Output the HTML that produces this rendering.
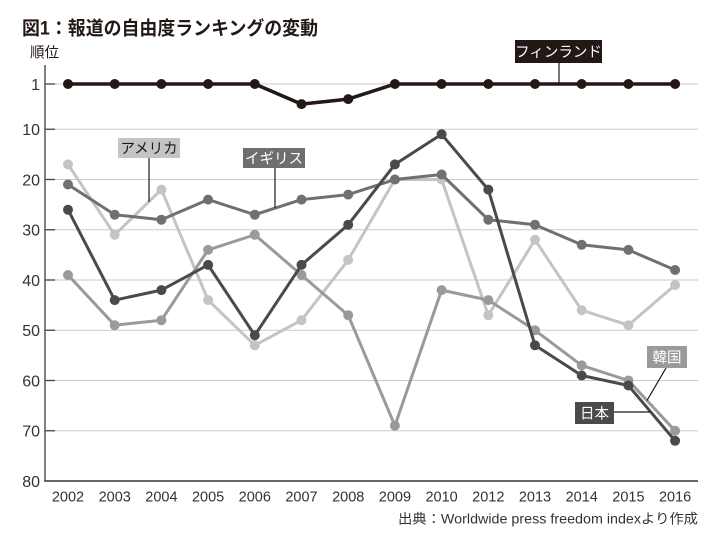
<!DOCTYPE html>
<html><head><meta charset="utf-8"><style>
html,body{margin:0;padding:0;background:#fff;}
svg{display:block;font-family:"Liberation Sans","Noto Sans CJK JP",sans-serif;}
</style></head><body>
<svg width="720" height="554" viewBox="0 0 720 554" xmlns="http://www.w3.org/2000/svg">
<rect width="720" height="554" fill="#fff"/>
<text x="22" y="34.5" font-size="19" font-weight="bold" fill="#231815" textLength="296" lengthAdjust="spacingAndGlyphs">図1：報道の自由度ランキングの変動</text>
<text x="30" y="57.5" font-size="14.5" fill="#231815">順位</text>
<g stroke="#cacaca" stroke-width="1">
<line x1="45" y1="84" x2="698" y2="84"/>
<line x1="45" y1="129.25" x2="698" y2="129.25"/>
<line x1="45" y1="179.5" x2="698" y2="179.5"/>
<line x1="45" y1="229.75" x2="698" y2="229.75"/>
<line x1="45" y1="280" x2="698" y2="280"/>
<line x1="45" y1="330.25" x2="698" y2="330.25"/>
<line x1="45" y1="380.5" x2="698" y2="380.5"/>
<line x1="45" y1="430.75" x2="698" y2="430.75"/>
</g>
<g stroke="#444" stroke-width="1.3">
<line x1="45" y1="84" x2="55" y2="84"/>
<line x1="45" y1="129.25" x2="55" y2="129.25"/>
<line x1="45" y1="179.5" x2="55" y2="179.5"/>
<line x1="45" y1="229.75" x2="55" y2="229.75"/>
<line x1="45" y1="280" x2="55" y2="280"/>
<line x1="45" y1="330.25" x2="55" y2="330.25"/>
<line x1="45" y1="380.5" x2="55" y2="380.5"/>
<line x1="45" y1="430.75" x2="55" y2="430.75"/>
</g>
<line x1="45" y1="65" x2="45" y2="481.5" stroke="#555" stroke-width="1.5"/>
<line x1="44.3" y1="481" x2="698" y2="481" stroke="#333" stroke-width="1.5"/>
<g font-size="16" fill="#333" text-anchor="end">
<text x="40" y="89.8">1</text>
<text x="40" y="135">10</text>
<text x="40" y="185.3">20</text>
<text x="40" y="235.5">30</text>
<text x="40" y="285.8">40</text>
<text x="40" y="336">50</text>
<text x="40" y="386.3">60</text>
<text x="40" y="436.5">70</text>
<text x="40" y="486.8">80</text>
</g>
<g font-size="14.5" fill="#333" text-anchor="middle">
<text x="68" y="501.5">2002</text>
<text x="114.7" y="501.5">2003</text>
<text x="161.4" y="501.5">2004</text>
<text x="208.1" y="501.5">2005</text>
<text x="254.8" y="501.5">2006</text>
<text x="301.5" y="501.5">2007</text>
<text x="348.2" y="501.5">2008</text>
<text x="394.9" y="501.5">2009</text>
<text x="441.6" y="501.5">2010</text>
<text x="488.3" y="501.5">2012</text>
<text x="535" y="501.5">2013</text>
<text x="581.7" y="501.5">2014</text>
<text x="628.4" y="501.5">2015</text>
<text x="675.1" y="501.5">2016</text>
</g>
<text x="398" y="523.5" font-size="13.5" fill="#333" textLength="300" lengthAdjust="spacingAndGlyphs">出典：Worldwide press freedom indexより作成</text>

<!-- USA -->
<g fill="#c4c4c4">
<polyline fill="none" stroke="#c4c4c4" stroke-width="3" stroke-linejoin="round" points="68,164.4 114.7,234.8 161.4,189.6 208.1,300.1 254.8,345.3 301.5,320.2 348.2,259.9 394.9,179.5 441.6,179.5 488.3,315.2 535,239.8 581.7,310.2 628.4,325.2 675.1,285"/>
<circle cx="68" cy="164.4" r="5"/><circle cx="114.7" cy="234.8" r="5"/><circle cx="161.4" cy="189.6" r="5"/><circle cx="208.1" cy="300.1" r="5"/><circle cx="254.8" cy="345.3" r="5"/><circle cx="301.5" cy="320.2" r="5"/><circle cx="348.2" cy="259.9" r="5"/><circle cx="394.9" cy="179.5" r="5"/><circle cx="441.6" cy="179.5" r="5"/><circle cx="488.3" cy="315.2" r="5"/><circle cx="535" cy="239.8" r="5"/><circle cx="581.7" cy="310.2" r="5"/><circle cx="628.4" cy="325.2" r="5"/><circle cx="675.1" cy="285" r="5"/>
</g>
<!-- Korea -->
<g fill="#9a9a9a">
<polyline fill="none" stroke="#9a9a9a" stroke-width="3" stroke-linejoin="round" points="68,275 114.7,325.2 161.4,320.2 208.1,249.9 254.8,234.8 301.5,275 348.2,315.2 394.9,425.7 441.6,290.1 488.3,300.1 535,330.3 581.7,365.4 628.4,380.5 675.1,430.8"/>
<circle cx="68" cy="275" r="5"/><circle cx="114.7" cy="325.2" r="5"/><circle cx="161.4" cy="320.2" r="5"/><circle cx="208.1" cy="249.9" r="5"/><circle cx="254.8" cy="234.8" r="5"/><circle cx="301.5" cy="275" r="5"/><circle cx="348.2" cy="315.2" r="5"/><circle cx="394.9" cy="425.7" r="5"/><circle cx="441.6" cy="290.1" r="5"/><circle cx="488.3" cy="300.1" r="5"/><circle cx="535" cy="330.3" r="5"/><circle cx="581.7" cy="365.4" r="5"/><circle cx="628.4" cy="380.5" r="5"/><circle cx="675.1" cy="430.8" r="5"/>
</g>
<!-- UK -->
<g fill="#707070">
<polyline fill="none" stroke="#707070" stroke-width="3" stroke-linejoin="round" points="68,184.5 114.7,214.7 161.4,219.7 208.1,199.6 254.8,214.7 301.5,199.6 348.2,194.6 394.9,179.5 441.6,174.5 488.3,219.7 535,224.7 581.7,244.8 628.4,249.9 675.1,270"/>
<circle cx="68" cy="184.5" r="5"/><circle cx="114.7" cy="214.7" r="5"/><circle cx="161.4" cy="219.7" r="5"/><circle cx="208.1" cy="199.6" r="5"/><circle cx="254.8" cy="214.7" r="5"/><circle cx="301.5" cy="199.6" r="5"/><circle cx="348.2" cy="194.6" r="5"/><circle cx="394.9" cy="179.5" r="5"/><circle cx="441.6" cy="174.5" r="5"/><circle cx="488.3" cy="219.7" r="5"/><circle cx="535" cy="224.7" r="5"/><circle cx="581.7" cy="244.8" r="5"/><circle cx="628.4" cy="249.9" r="5"/><circle cx="675.1" cy="270" r="5"/>
</g>
<!-- Japan -->
<g fill="#4a4a4a">
<polyline fill="none" stroke="#4a4a4a" stroke-width="3" stroke-linejoin="round" points="68,209.7 114.7,300.1 161.4,290.1 208.1,264.9 254.8,335.3 301.5,264.9 348.2,224.7 394.9,164.4 441.6,134.3 488.3,189.6 535,345.3 581.7,375.5 628.4,385.5 675.1,440.8"/>
<circle cx="68" cy="209.7" r="5"/><circle cx="114.7" cy="300.1" r="5"/><circle cx="161.4" cy="290.1" r="5"/><circle cx="208.1" cy="264.9" r="5"/><circle cx="254.8" cy="335.3" r="5"/><circle cx="301.5" cy="264.9" r="5"/><circle cx="348.2" cy="224.7" r="5"/><circle cx="394.9" cy="164.4" r="5"/><circle cx="441.6" cy="134.3" r="5"/><circle cx="488.3" cy="189.6" r="5"/><circle cx="535" cy="345.3" r="5"/><circle cx="581.7" cy="375.5" r="5"/><circle cx="628.4" cy="385.5" r="5"/><circle cx="675.1" cy="440.8" r="5"/>
</g>
<!-- Finland -->
<g fill="#231815">
<polyline fill="none" stroke="#231815" stroke-width="3.5" stroke-linejoin="round" points="68,84 114.7,84 161.4,84 208.1,84 254.8,84 301.5,104.1 348.2,99.1 394.9,84 441.6,84 488.3,84 535,84 581.7,84 628.4,84 675.1,84"/>
<circle cx="68" cy="84" r="5"/><circle cx="114.7" cy="84" r="5"/><circle cx="161.4" cy="84" r="5"/><circle cx="208.1" cy="84" r="5"/><circle cx="254.8" cy="84" r="5"/><circle cx="301.5" cy="104.1" r="5"/><circle cx="348.2" cy="99.1" r="5"/><circle cx="394.9" cy="84" r="5"/><circle cx="441.6" cy="84" r="5"/><circle cx="488.3" cy="84" r="5"/><circle cx="535" cy="84" r="5"/><circle cx="581.7" cy="84" r="5"/><circle cx="628.4" cy="84" r="5"/><circle cx="675.1" cy="84" r="5"/>
</g>

<!-- leaders -->
<g stroke="#231815" stroke-width="1.2" fill="none">
<line x1="149" y1="158" x2="149" y2="202"/>
<line x1="275" y1="168" x2="275" y2="208"/>
<line x1="559" y1="63" x2="559" y2="84"/>
<line x1="666" y1="368" x2="647" y2="400.5"/>
<line x1="614" y1="412" x2="650" y2="412"/>
</g>
<!-- labels -->
<rect x="118" y="138" width="62" height="20" fill="#c4c4c4"/>
<text x="149" y="153.5" font-size="14.5" fill="#231815" text-anchor="middle">アメリカ</text>
<rect x="243" y="148" width="62" height="20" fill="#6e6e6e"/>
<text x="274" y="163.5" font-size="14.5" fill="#fff" text-anchor="middle">イギリス</text>
<rect x="515" y="40" width="87" height="23" fill="#231815"/>
<text x="558.5" y="57" font-size="14.5" fill="#fff" text-anchor="middle">フィンランド</text>
<rect x="647" y="346" width="40" height="22" fill="#9a9a9a"/>
<text x="667" y="362.5" font-size="14.5" fill="#fff" text-anchor="middle">韓国</text>
<rect x="575" y="402" width="39" height="22" fill="#4a4a4a"/>
<text x="594.5" y="418.5" font-size="14.5" fill="#fff" text-anchor="middle">日本</text>
</svg>
</body></html>
